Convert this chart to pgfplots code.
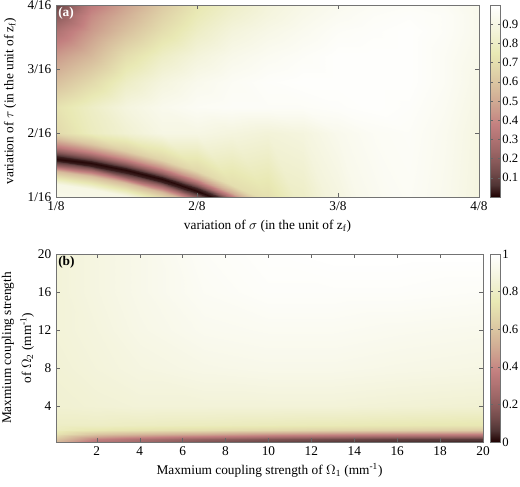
\documentclass[border=0pt]{standalone}
\usepackage{fontspec}
\setmainfont{Liberation Serif}
\usepackage{pgfplots}
\pgfplotsset{compat=1.18}

% MATLAB "pink" colormap, sampled every 1/16
\pgfplotsset{
  colormap={pinkmap}{
    rgb(0cm)=(0.118,0,0) rgb(1cm)=(0.312,0.204,0.204) rgb(2cm)=(0.441,0.289,0.289)
    rgb(3cm)=(0.540,0.354,0.354) rgb(4cm)=(0.624,0.408,0.408) rgb(5cm)=(0.697,0.456,0.456)
    rgb(6cm)=(0.764,0.500,0.500) rgb(7cm)=(0.791,0.589,0.540) rgb(8cm)=(0.816,0.667,0.577)
    rgb(9cm)=(0.842,0.736,0.612) rgb(10cm)=(0.866,0.799,0.645) rgb(11cm)=(0.890,0.858,0.677)
    rgb(12cm)=(0.913,0.913,0.707) rgb(13cm)=(0.935,0.935,0.791) rgb(14cm)=(0.957,0.957,0.866)
    rgb(15cm)=(0.979,0.979,0.935) rgb(16cm)=(1,1,1)},
  /pgf/number format/assume math mode=true,
  every tick label/.append style={font=\fontsize{10}{12}\selectfont},
  fig/.style={
    scale only axis, enlargelimits=false, axis on top,
    colormap name=pinkmap, point meta min=0, point meta max=1,
    axis line style={black!55}, tick style={black!60},
    tick align=inside, major tick length=3pt,
    label style={font=\fontsize{10}{15}\selectfont},
    colorbar,
  },
  cbar/.style={at={(parent axis.north east)}, anchor=north west,
    width=7.5pt, scale only axis,
    axis line style={black!55}, tick style={black!60}, major tick length=2pt,
    yticklabel style={xshift=-2pt, font=\fontsize{9.5}{11}\selectfont}},
}

\begin{document}
\begin{tikzpicture}
\useasboundingbox (0pt,0pt) rectangle (390pt,-364.5pt);

% (a)
\begin{axis}[fig,
  at={(42pt,-3.75pt)}, anchor=north west,
  width=317.25pt, height=144pt,
  xmin=1, xmax=4, ymin=1, ymax=4,
  xtick={1,2,3,4}, xticklabels={1/8,2/8,3/8,4/8},
  ytick={1,2,3,4}, yticklabels={1/16,2/16,3/16,4/16},
  xlabel={variation of $\sigma$ (in the unit of z\textsubscript{f})},
  ylabel={variation of $\tau$ (in the unit of z\textsubscript{f})},
  xlabel style={at={(rel axis cs:0.5,0)}, anchor=center, yshift=-21.75pt},
  ylabel style={at={([xshift=-34.5pt]rel axis cs:0,0.5)}, anchor=center},
  colorbar style={cbar, xshift=0pt, height=144pt,
    ytick={0.1,0.2,0.3,0.4,0.5,0.6,0.7,0.8,0.9}},
]
\addplot[surf, shader=interp, mesh/ordering=y varies, mesh/rows=17, mesh/cols=13,
  point meta=explicit] table[x=x, y=y, meta=v] {
x y v
1 0.60 0.97
1 1.20 0.90
1 1.40 0.55
1 1.50 0.20
1 1.56 0.04
1 1.60 0.01
1 1.64 0.04
1 1.70 0.18
1 1.78 0.35
1 1.90 0.55
1 2.0 0.68
1 2.4 0.72
1 2.8 0.58
1 3.2 0.45
1 3.6 0.30
1 3.85 0.18
1 4.0 0.10
1.25 0.53 0.97
1.25 1.13 0.90
1.25 1.33 0.56
1.25 1.43 0.20
1.25 1.49 0.04
1.25 1.53 0.01
1.25 1.57 0.04
1.25 1.63 0.19
1.25 1.71 0.38
1.25 1.83 0.60
1.25 2.0 0.78
1.25 2.4 0.80
1.25 2.8 0.68
1.25 3.2 0.55
1.25 3.6 0.45
1.25 3.85 0.40
1.25 4.0 0.35
1.5 0.42 0.97
1.5 1.02 0.90
1.5 1.22 0.56
1.5 1.32 0.20
1.5 1.38 0.04
1.5 1.42 0.01
1.5 1.46 0.04
1.5 1.52 0.20
1.5 1.60 0.40
1.5 1.72 0.63
1.5 2.0 0.84
1.5 2.4 0.88
1.5 2.8 0.80
1.5 3.2 0.70
1.5 3.6 0.58
1.5 3.85 0.52
1.5 4.0 0.48
1.75 0.28 0.96
1.75 0.88 0.88
1.75 1.08 0.55
1.75 1.18 0.20
1.75 1.24 0.04
1.75 1.28 0.01
1.75 1.32 0.04
1.75 1.38 0.22
1.75 1.46 0.42
1.75 1.58 0.65
1.75 2.0 0.90
1.75 2.4 0.93
1.75 2.8 0.88
1.75 3.2 0.80
1.75 3.6 0.70
1.75 3.85 0.65
1.75 4.0 0.62
2 0.10 0.95
2 0.70 0.86
2 0.90 0.52
2 1.00 0.20
2 1.06 0.04
2 1.10 0.01
2 1.14 0.05
2 1.20 0.24
2 1.28 0.45
2 1.40 0.67
2 2.0 0.90
2 2.4 0.96
2 2.8 0.93
2 3.2 0.87
2 3.6 0.80
2 3.85 0.76
2 4.0 0.74
2.25 -0.12 0.93
2.25 0.48 0.85
2.25 0.68 0.52
2.25 0.78 0.20
2.25 0.84 0.04
2.25 0.88 0.01
2.25 0.92 0.06
2.25 0.98 0.28
2.25 1.06 0.50
2.25 1.18 0.70
2.25 2.0 0.88
2.25 2.4 0.97
2.25 2.8 0.96
2.25 3.2 0.92
2.25 3.6 0.87
2.25 3.85 0.83
2.25 4.0 0.81
2.5 -0.36 0.90
2.5 0.24 0.80
2.5 0.44 0.52
2.5 0.54 0.20
2.5 0.60 0.05
2.5 0.64 0.02
2.5 0.68 0.08
2.5 0.74 0.32
2.5 0.82 0.55
2.5 0.94 0.70
2.5 2.0 0.86
2.5 2.4 0.97
2.5 2.8 0.98
2.5 3.2 0.95
2.5 3.6 0.91
2.5 3.85 0.88
2.5 4.0 0.87
2.75 -0.62 0.90
2.75 -0.02 0.80
2.75 0.18 0.60
2.75 0.28 0.30
2.75 0.34 0.10
2.75 0.38 0.02
2.75 0.42 0.12
2.75 0.48 0.40
2.75 0.56 0.60
2.75 0.68 0.78
2.75 2.0 0.88
2.75 2.4 0.97
2.75 2.8 0.99
2.75 3.2 0.97
2.75 3.6 0.94
2.75 3.85 0.92
2.75 4.0 0.91
3 -0.90 0.90
3 -0.30 0.80
3 -0.10 0.60
3 0.00 0.30
3 0.06 0.10
3 0.10 0.02
3 0.14 0.12
3 0.20 0.45
3 0.28 0.70
3 0.40 0.86
3 2.0 0.93
3 2.4 0.98
3 2.8 0.99
3 3.2 0.99
3 3.6 0.97
3 3.85 0.95
3 4.0 0.94
3.25 -1.20 0.90
3.25 -0.60 0.80
3.25 -0.40 0.60
3.25 -0.30 0.30
3.25 -0.24 0.10
3.25 -0.20 0.02
3.25 -0.16 0.12
3.25 -0.10 0.50
3.25 -0.02 0.80
3.25 0.10 0.92
3.25 2.0 0.96
3.25 2.4 0.99
3.25 2.8 0.99
3.25 3.2 0.99
3.25 3.6 0.98
3.25 3.85 0.97
3.25 4.0 0.96
3.5 -1.50 0.90
3.5 -0.90 0.80
3.5 -0.70 0.60
3.5 -0.60 0.30
3.5 -0.54 0.10
3.5 -0.50 0.02
3.5 -0.46 0.12
3.5 -0.40 0.50
3.5 -0.32 0.80
3.5 -0.20 0.95
3.5 2.0 0.97
3.5 2.4 0.98
3.5 2.8 0.99
3.5 3.2 0.99
3.5 3.6 0.99
3.5 3.85 0.98
3.5 4.0 0.97
3.75 -1.80 0.90
3.75 -1.20 0.80
3.75 -1.00 0.60
3.75 -0.90 0.30
3.75 -0.84 0.10
3.75 -0.80 0.02
3.75 -0.76 0.12
3.75 -0.70 0.50
3.75 -0.62 0.80
3.75 -0.50 0.92
3.75 2.0 0.94
3.75 2.4 0.95
3.75 2.8 0.96
3.75 3.2 0.96
3.75 3.6 0.97
3.75 3.85 0.97
3.75 4.0 0.96
4 -2.10 0.90
4 -1.50 0.80
4 -1.30 0.60
4 -1.20 0.30
4 -1.14 0.10
4 -1.10 0.02
4 -1.06 0.12
4 -1.00 0.50
4 -0.92 0.80
4 -0.80 0.87
4 2.0 0.89
4 2.4 0.90
4 2.8 0.91
4 3.2 0.92
4 3.6 0.93
4 3.85 0.93
4 4.0 0.93
};
\node[anchor=north west, inner sep=1.5pt, text=white, font=\bfseries\fontsize{10}{12}\selectfont]
  at (rel axis cs:0,1) {(a)};
\end{axis}

% (b)
\begin{axis}[fig,
  at={(42pt,-190.5pt)}, anchor=north west,
  width=320.25pt, height=141pt,
  xmin=0.1, xmax=20, ymin=0.2, ymax=20,
  xtick={2,4,...,20}, ytick={4,8,12,16,20},
  xlabel={Maxmium coupling strength of $\Omega$\textsubscript{1} (mm\textsuperscript{-1})},
  ylabel={Maxmium coupling strength\\of $\Omega$\textsubscript{2} (mm\textsuperscript{-1})},
  xlabel style={at={(rel axis cs:0.5,0)}, anchor=center, yshift=-21pt},
  ylabel style={at={([xshift=-28.5pt]rel axis cs:0,0.5)}, anchor=center, align=center},
  colorbar style={cbar, xshift=-3pt, height=141pt,
    ytick={0,0.2,0.4,0.6,0.8,1}},
]
\addplot[surf, shader=interp, mesh/ordering=y varies, mesh/rows=10, mesh/cols=8,
  point meta=explicit] table[x=x, y=y, meta=v] {
x y v
0.1 0.2 0.55
0.1 0.5 0.60
0.1 1 0.72
0.1 1.5 0.78
0.1 2 0.80
0.1 4 0.84
0.1 8 0.85
0.1 12 0.86
0.1 16 0.86
0.1 20 0.86
2 0.2 0.30
2 0.5 0.38
2 1 0.60
2 1.5 0.74
2 2 0.80
2 4 0.85
2 8 0.87
2 12 0.88
2 16 0.89
2 20 0.89
4 0.2 0.25
4 0.5 0.30
4 1 0.55
4 1.5 0.72
4 2 0.79
4 4 0.86
4 8 0.89
4 12 0.91
4 16 0.92
4 20 0.92
7 0.2 0.15
7 0.5 0.22
7 1 0.50
7 1.5 0.70
7 2 0.78
7 4 0.86
7 8 0.91
7 12 0.94
7 16 0.96
7 20 0.97
10 0.2 0.10
10 0.5 0.17
10 1 0.45
10 1.5 0.68
10 2 0.77
10 4 0.86
10 8 0.92
10 12 0.95
10 16 0.98
10 20 0.99
13 0.2 0.07
13 0.5 0.13
13 1 0.42
13 1.5 0.66
13 2 0.76
13 4 0.86
13 8 0.92
13 12 0.95
13 16 0.98
13 20 1.00
16 0.2 0.05
16 0.5 0.10
16 1 0.40
16 1.5 0.65
16 2 0.75
16 4 0.85
16 8 0.91
16 12 0.94
16 16 0.98
16 20 1.00
20 0.2 0.03
20 0.5 0.08
20 1 0.38
20 1.5 0.63
20 2 0.74
20 4 0.84
20 8 0.90
20 12 0.93
20 16 0.97
20 20 1.00
};
\node[anchor=north west, inner sep=1.5pt, font=\bfseries\fontsize{10}{12}\selectfont]
  at (rel axis cs:0,1) {(b)};
\end{axis}
\end{tikzpicture}
\end{document}
